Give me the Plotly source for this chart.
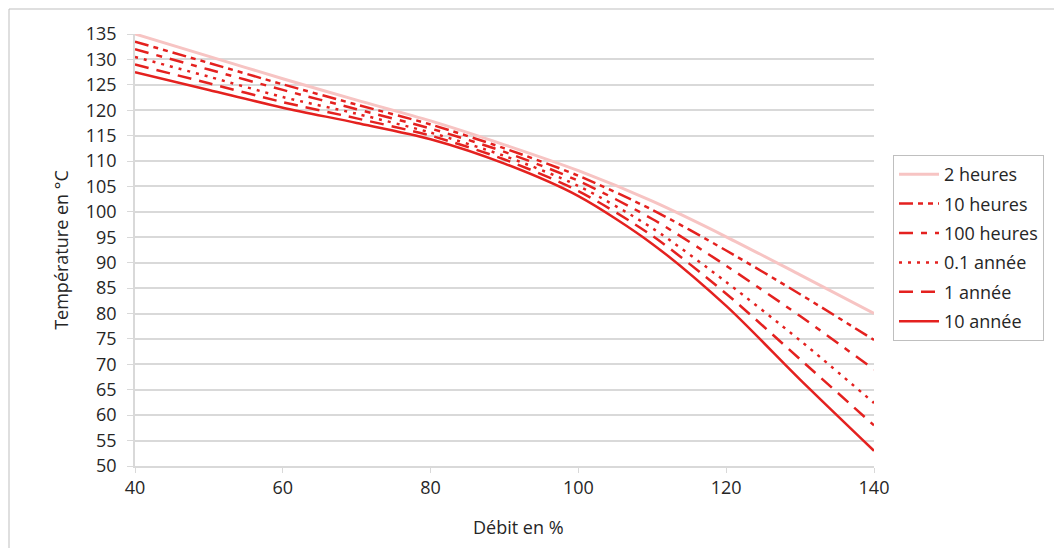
import plotly.graph_objects as go

debit = [40, 50, 60, 70, 80, 90, 100, 110, 120, 130, 140]

t_2h = [135, 130.6, 126.2, 122.0, 117.9, 113.2, 108.1, 102.1, 95.1, 87.6, 80.0]
t_10h = [133.5, 129.3, 125.1, 121.1, 117.2, 112.5, 107.1, 100.4, 92.4, 83.8, 74.8]
t_100h = [132.0, 128.0, 124.0, 120.2, 116.4, 111.8, 106.1, 98.6, 89.4, 79.5, 69.0]
t_01a = [130.5, 126.6, 122.6, 119.3, 115.6, 111.0, 105.1, 96.8, 86.2, 74.7, 62.4]
t_1a = [129.0, 125.3, 121.6, 118.4, 115.0, 110.3, 104.1, 95.3, 83.9, 71.0, 58.0]
t_10a = [127.5, 124.0, 120.5, 117.5, 114.3, 109.5, 103.1, 93.7, 81.5, 67.0, 53.0]

series_names = ["2 heures", "10 heures", "100 heures", "0.1 année", "1 année", "10 année"]
series_values = [t_2h, t_10h, t_100h, t_01a, t_1a, t_10a]

RED = "#E4211F"
PINK = "#F7C4C3"
styles = [
    dict(color=PINK, width=3, dash="solid"),
    dict(color=RED, width=2.5, dash="14px,5px,5px,5px,5px,5px"),
    dict(color=RED, width=2.5, dash="14px,8px,6px,8px"),
    dict(color=RED, width=2.5, dash="3px,6px"),
    dict(color=RED, width=2.5, dash="14px,8px"),
    dict(color=RED, width=2.5, dash="solid"),
]

fig = go.Figure()
for i, (name, vals, st) in enumerate(zip(series_names, series_values, styles)):
    fig.add_trace(go.Scatter(
        x=debit, y=vals, name=name, mode="lines",
        line=dict(color=st["color"], width=st["width"], dash=st["dash"],
                  shape="spline", smoothing=0.8),
        legendgroup=f"g{i}",
    ))

# page body adds an 8px offset; positions below are in figure pixels
OFF = 8
W, H = 1062, 548
L, R, T, B = 135 - OFF, 874 - OFF, 34 - OFF, 466 - OFF
pw, ph = R - L, B - T

def px2paper_x(px):
    return (px - OFF - L) / pw

def px2paper_y(py):
    return (B - (py - OFF)) / ph

fig.update_layout(
    width=W, height=H,
    margin=dict(l=L, r=W - R, t=T, b=H - B),
    paper_bgcolor="white", plot_bgcolor="white",
    font=dict(family="Open Sans", size=18, color="#262626"),
    showlegend=True,
    legend=dict(
        x=px2paper_x(893), y=px2paper_y(155), xanchor="left", yanchor="top",
        bordercolor="#BFBFBF", borderwidth=1, bgcolor="white",
        font=dict(size=18, color="#262626"),
        tracegroupgap=3, itemwidth=40,
    ),
    shapes=[
        dict(type="line", xref="paper", yref="paper",
             x0=px2paper_x(9), x1=px2paper_x(9), y0=px2paper_y(9), y1=px2paper_y(570),
             line=dict(color="#BFBFBF", width=1)),
        dict(type="line", xref="paper", yref="paper",
             x0=px2paper_x(9), x1=px2paper_x(1080), y0=px2paper_y(9), y1=px2paper_y(9),
             line=dict(color="#BFBFBF", width=1)),
    ],
    annotations=[
        dict(text="Débit en %", xref="paper", yref="paper",
             x=px2paper_x(518), y=px2paper_y(527), xanchor="center", yanchor="middle",
             showarrow=False, font=dict(size=18, color="#262626")),
    ],
)

fig.update_xaxes(
    range=[40, 140], dtick=20, tick0=40,
    showgrid=False, zeroline=False,
    showline=True, linecolor="#D9D9D9", linewidth=1.5,
    ticks="outside", ticklen=5, tickcolor="#D9D9D9",
)
fig.update_yaxes(
    range=[50, 135], dtick=5, tick0=50,
    showgrid=True, gridcolor="#D9D9D9", gridwidth=1.5,
    zeroline=False,
    showline=True, linecolor="#D9D9D9", linewidth=1.5,
    ticks="outside", ticklen=6, tickcolor="#D9D9D9",
    ticklabelstandoff=7,
    title=dict(text="Température en °C", standoff=12, font=dict(size=18)),
)

fig.write_html("out.html")
